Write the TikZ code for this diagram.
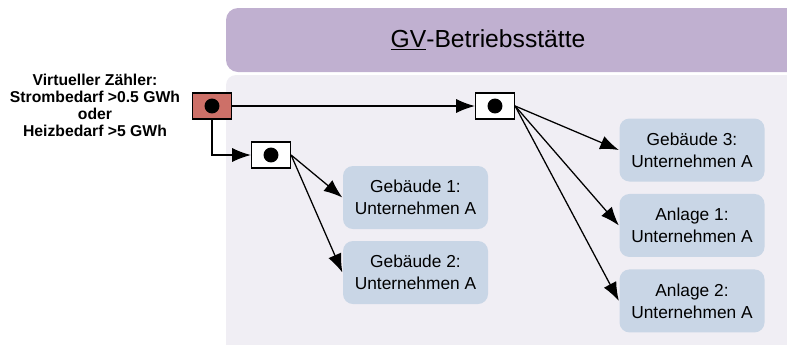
\documentclass[tikz,border=0pt]{standalone}
\usepackage{fontspec}
\setmainfont{Liberation Sans}
\usetikzlibrary{arrows,arrows.meta,shapes.geometric,calc,positioning}
\usepackage{color}
\definecolor{gvlila}{RGB}{192,176,208}
\definecolor{gvhell}{RGB}{240,238,244}
\definecolor{gvblau}{RGB}{201,214,230}
\definecolor{gvrot}{RGB}{205,112,104}
\tikzstyle{unit} = [rectangle, rounded corners=7.5pt, minimum width=108.75pt, minimum height=47.25pt, text centered, align=center, fill=gvblau, font=\fontsize{13}{16.5}\selectfont]
\tikzstyle{meter} = [rectangle, minimum width=29.25pt, minimum height=19.5pt, draw=black, line width=0.9pt, fill=white, path picture={\fill[black] (path picture bounding box.center) circle (5.6pt);}]
\tikzstyle{backdrop} = [rounded corners=7.5pt, draw=none]

\begin{document}
\begin{tikzpicture}[->,>={Latex[length=14pt,width=10.5pt]},line width=0.95pt,x=0.75pt,y=-0.75pt]
            %    \tikzstyle{every node}+=[inner sep=0pt]
            \useasboundingbox (0,0) rectangle (787,344);
            \clip (0,0) rectangle (787,344);
            \fill[backdrop, fill=gvhell] (226,75) rectangle (830,380);
            \fill[backdrop, fill=gvlila, rounded corners=9pt] (226,8) rectangle (830,72);
            \node (Title) at (488,40) {\fontsize{18.5}{22}\selectfont\underline{GV}-Betriebsstätte};

            \node (Label) [align=center, font=\bfseries\fontsize{11.8}{12.75}\selectfont] at (95,105) {Virtueller Zähler:\\Strombedarf >0.5 GWh\\oder\\Heizbedarf >5 GWh};
            \node (Main) [meter, fill=gvrot] at (212,106) {};
            \node (SubLeft) [meter] at (271,155) {};
            \node (SubRight) [meter] at (495,106) {};

            \node (Geb1) [unit] at (415.5,197.5) {Gebäude 1:\\Unternehmen A};
            \node (Geb2) [unit, below of=Geb1, node distance=56.25pt] {Gebäude 2:\\Unternehmen A};
            \node (Geb3) [unit] at (692,150) {Gebäude 3:\\Unternehmen A};
            \node (Anl1) [unit, below of=Geb3, node distance=56.6pt] {Anlage 1:\\Unternehmen A};
            \node (Anl2) [unit, below of=Anl1, node distance=56.6pt] {Anlage 2:\\Unternehmen A};

            \draw (Main) -- (SubRight);
            \draw (Main.south) |- (SubLeft.west);
            \draw (SubLeft.east) -- (Geb1.west);
            \draw (SubLeft.east) -- (Geb2.west);
            \foreach \n in {Geb3,Anl1,Anl2}
                \draw (SubRight.east) -- (\n.west);

        \end{tikzpicture}
\end{document}
